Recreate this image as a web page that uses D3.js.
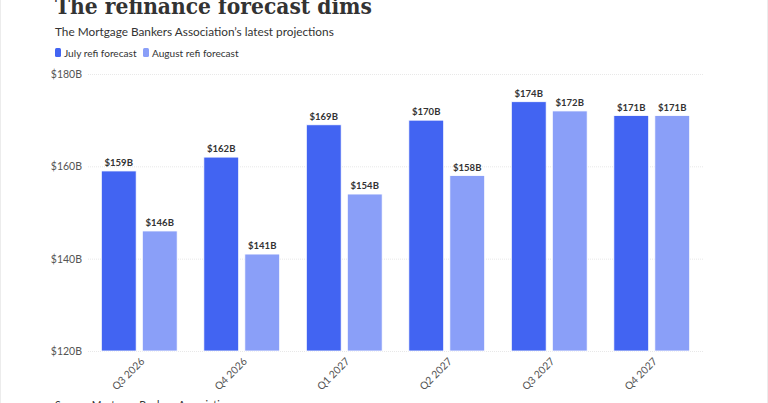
<!DOCTYPE html>
<html>
<head>
<meta charset="utf-8">
<script src="https://cdn.jsdelivr.net/npm/d3@7"></script>
<style>
  body { margin: 0; background: #fff; }
  svg { display: block; }
</style>
</head>
<body>
<div id="chart"></div>
<script>
// chart data
var quarters = ["Q3 2026", "Q4 2026", "Q1 2027", "Q2 2027", "Q3 2027", "Q4 2027"];
var julyForecast = [159, 162, 169, 170, 174, 171];
var augustForecast = [146, 141, 154, 158, 172, 171];
var seriesNames = ["July refi forecast", "August refi forecast"];
var yTicks = [120, 140, 160, 180];

var width = 768;
var height = 403;
var margin = {top: 74, right: 65, bottom: 52, left: 88};

var colors = ["#4264f2", "#8a9ff8"];

var svg = d3.select("#chart")
            .append("svg")
            .attr("width", width)
            .attr("height", height)
            .style("font-family", "Lato, 'Open Sans', sans-serif");

// faint frame around the graphic
svg.append("rect")
   .attr("x", 0.5).attr("y", -2)
   .attr("width", width - 1).attr("height", height + 4)
   .attr("fill", "none")
   .attr("stroke", "#ececec");

// title, partly cut off at the top like the source
svg.append("text")
   .attr("x", 55)
   .attr("y", 14)
   .attr("textLength", 317)
   .attr("lengthAdjust", "spacingAndGlyphs")
   .style("font-family", "'DejaVu Serif', serif")
   .style("font-weight", "bold")
   .style("font-size", "23px")
   .attr("fill", "#333")
   .text("The refinance forecast dims");

svg.append("text")
   .attr("x", 55)
   .attr("y", 36)
   .style("font-size", "11.8px")
   .attr("fill", "#333")
   .text("The Mortgage Bankers Association\u2019s latest projections");

// legend
var legendX = [55, 143];
var legend = svg.selectAll("g.legend")
                .data(seriesNames)
                .enter()
                .append("g")
                .attr("class", "legend")
                .attr("transform", function(d, i){ return "translate(" + legendX[i] + ",48)"; });

legend.append("rect")
      .attr("width", 6).attr("height", 9)
      .attr("rx", 1.5)
      .attr("fill", function(d, i){ return colors[i]; });

legend.append("text")
      .attr("x", 9)
      .attr("y", 8.5)
      .style("font-size", "10.1px")
      .attr("fill", "#333")
      .text(function(d){ return d; });

// scales
var x0 = d3.scaleBand()
           .domain(quarters)
           .range([margin.left, width - margin.right])
           .paddingInner(0.26)
           .paddingOuter(0.13);

var x1 = d3.scaleBand()
           .domain([0, 1])
           .range([0, x0.bandwidth()])
           .paddingInner(0.15);

var y = d3.scaleLinear()
          .domain([120, 180])
          .range([height - margin.bottom, margin.top]);

// grid lines + y labels
var yAxis = d3.axisLeft(y)
              .tickValues(yTicks)
              .tickSize(-(width - margin.left - margin.right))
              .tickPadding(6)
              .tickFormat(function(d){ return "$" + d + "B"; });

var yG = svg.append("g")
            .attr("transform", "translate(" + margin.left + ",0)")
            .call(yAxis);
yG.select(".domain").remove();
yG.selectAll(".tick line")
  .attr("stroke", "#e8e8e8")
  .attr("stroke-dasharray", "1,1");
yG.selectAll(".tick text")
  .attr("fill", "#555")
  .style("font-family", "Lato, sans-serif")
  .style("font-size", "10.5px");

// bars
var rows = quarters.map(function(q, i){
	return {q: q, vals: [julyForecast[i], augustForecast[i]]};
});

var groups = svg.selectAll("g.group")
                .data(rows)
                .enter()
                .append("g")
                .attr("class", "group")
                .attr("transform", function(d){ return "translate(" + x0(d.q) + ",0)"; });

groups.selectAll("rect")
      .data(function(d){ return d.vals; })
      .enter()
      .append("rect")
      .attr("x", function(d, i){ return x1(i); })
      .attr("y", function(d){ return y(d); })
      .attr("width", x1.bandwidth())
      .attr("height", function(d){ return y(120) - y(d); })
      .attr("fill", function(d, i){ return colors[i]; })
      .attr("stroke", "#fff")
      .attr("stroke-width", 0.8);

groups.selectAll("text")
      .data(function(d){ return d.vals; })
      .enter()
      .append("text")
      .attr("x", function(d, i){ return x1(i) + x1.bandwidth() / 2; })
      .attr("y", function(d){ return y(d) - 5; })
      .attr("text-anchor", "middle")
      .style("font-size", "9.5px")
      .style("font-weight", "bold")
      .attr("fill", "#333")
      .text(function(d){ return "$" + d + "B"; });

// rotated quarter labels
svg.selectAll("text.xlab")
   .data(quarters)
   .enter()
   .append("text")
   .attr("class", "xlab")
   .attr("transform", function(d){
	   return "translate(" + (x0(d) + x0.bandwidth() / 2 + 6) + "," + (height - margin.bottom + 11) + ") rotate(-45)";
   })
   .attr("text-anchor", "end")
   .style("font-size", "10.3px")
   .attr("fill", "#555")
   .text(function(d){ return d; });

// source note, cut off at the bottom like the source
svg.append("text")
   .attr("x", 55)
   .attr("y", 409)
   .style("font-size", "10.5px")
   .attr("fill", "#333")
   .text("Source: Mortgage Bankers Association");
</script>
</body>
</html>
